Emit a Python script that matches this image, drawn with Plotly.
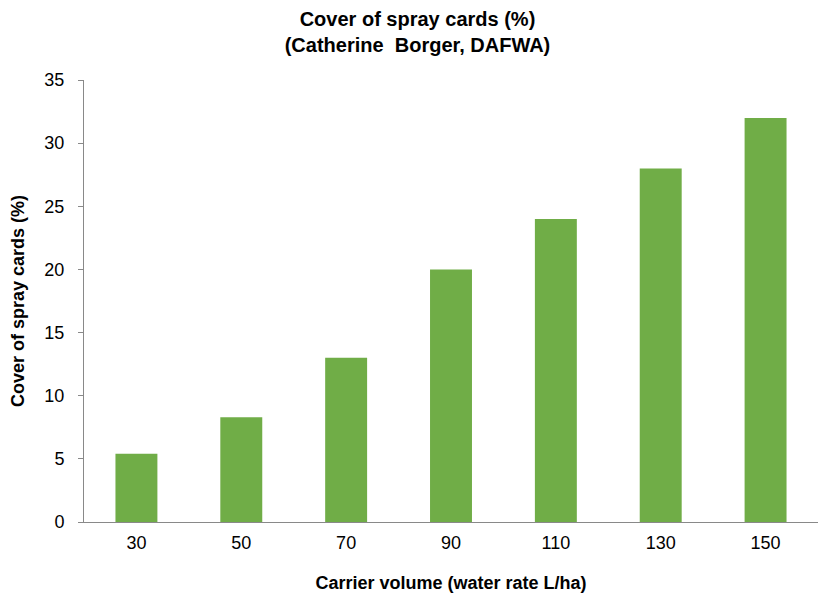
import plotly.graph_objects as go

# Carrier volume (L/ha) and cover of spray cards (%)
carrier_volume = ["30", "50", "70", "90", "110", "130", "150"]
cover_pct = [5.4, 8.3, 13.0, 20.0, 24.0, 28.0, 32.0]
y_ticks = [0, 5, 10, 15, 20, 25, 30, 35]

FONT = "Liberation Sans, Arial, sans-serif"
BAR_GREEN = "#70AD47"
AXIS_GREY = "#898989"

fig = go.Figure(
    go.Bar(
        x=carrier_volume,
        y=cover_pct,
        marker_color=BAR_GREEN,
        marker_line_width=0,
    )
)

# page body has an 8px margin, so the figure is a bit smaller than the window
fig.update_layout(
    width=819,
    height=599,
    plot_bgcolor="white",
    paper_bgcolor="white",
    bargap=0.6,
    showlegend=False,
    margin=dict(l=76, r=9, t=72, b=85),
    font=dict(family=FONT, size=18, color="black"),
    title=dict(
        text="<b>Cover of spray cards (%)</b><br><b>(Catherine  Borger, DAFWA)</b>",
        x=0.5,
        xanchor="center",
        xref="container",
        yref="container",
        y=0.970,
        yanchor="middle",
        font=dict(family=FONT, size=20, color="black"),
    ),
)

fig.update_xaxes(
    title=dict(text="<b>Carrier volume (water rate L/ha)</b>", standoff=24,
               font=dict(size=18)),
    showline=True,
    linecolor=AXIS_GREY,
    linewidth=1,
    ticks="",
    ticklabelstandoff=4,
    showgrid=False,
    tickfont=dict(size=18),
    automargin=False,
)

fig.update_yaxes(
    title=dict(text="<b>Cover of spray cards (%)</b>", standoff=20,
               font=dict(size=18)),
    range=[0, 35],
    tickvals=y_ticks,
    showline=True,
    linecolor=AXIS_GREY,
    linewidth=1,
    ticks="outside",
    ticklen=5,
    tickcolor=AXIS_GREY,
    ticklabelstandoff=10,
    showgrid=False,
    zeroline=False,
    tickfont=dict(size=18),
    automargin=False,
)

fig.write_html("out.html")
